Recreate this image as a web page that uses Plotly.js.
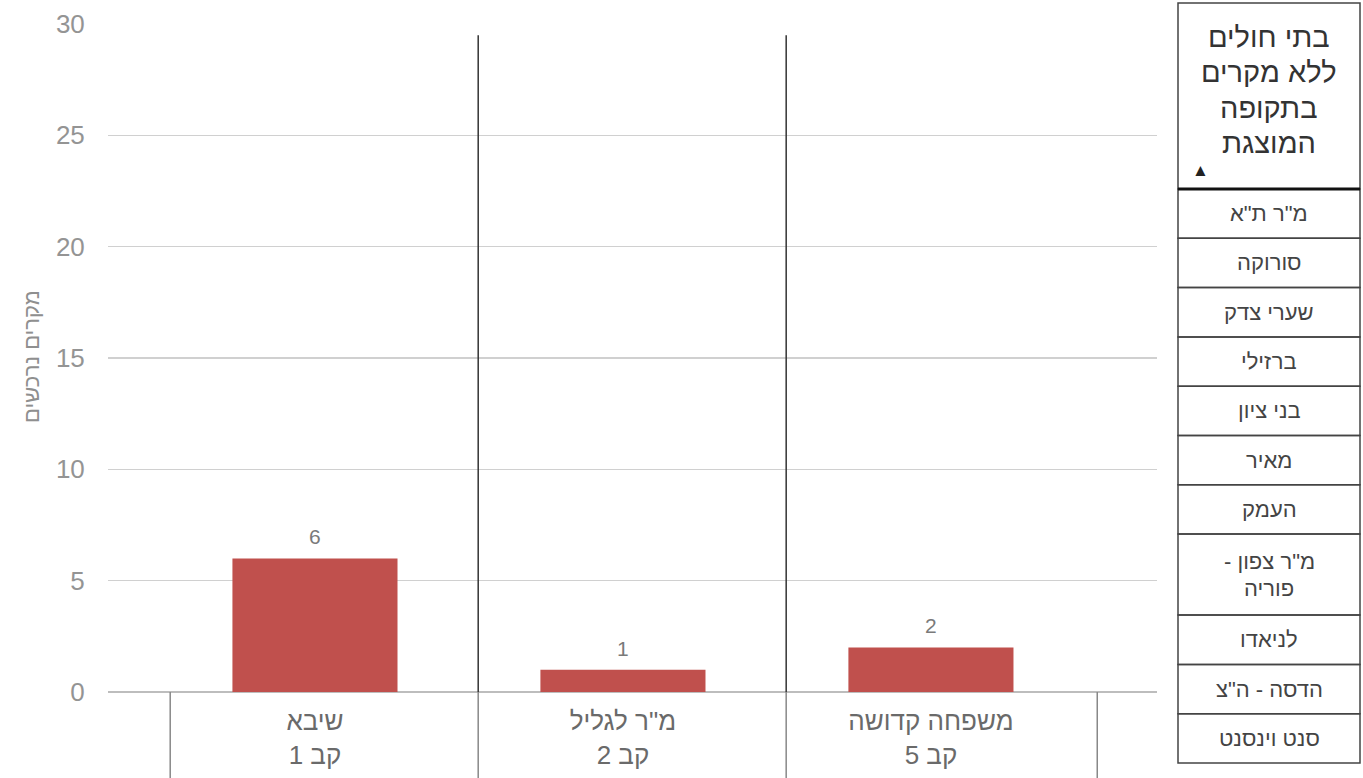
<!DOCTYPE html>
<html>
<head>
<meta charset="utf-8">
<script src="https://cdn.plot.ly/plotly-3.0.1.min.js"></script>
<style>
html,body{margin:0;padding:0;background:#fff;}
#chart{width:1363px;height:778px;}
</style>
</head>
<body>
<div id="chart"></div>
<script>
// ---------- data ----------
const hospitals = ['שיבא', 'מ"ר לגליל', 'משפחה קדושה'];
const districts = ['קב 1', 'קב 2', 'קב 5'];
const cases = [6, 1, 2];
const yTickValues = [0, 5, 10, 15, 20, 25, 30];
const yTitle = 'מקרים נרכשים';
const tableHeader = 'בתי חולים ללא מקרים בתקופה המוצגת';
const noCaseHospitals = ['מ"ר ת"א', 'סורוקה', 'שערי צדק', 'ברזילי', 'בני ציון', 'מאיר', 'העמק', 'מ"ר צפון - פוריה', 'לניאדו', 'הדסה - ה"צ', 'סנט וינסנט'];

// ---------- helpers ----------
const RLE = '\u202B', PDF = '\u202C';
const rtl = s => RLE + s + PDF;
function wrap(s, maxChars) {
  const words = s.split(' ');
  const lines = [];
  let cur = '';
  words.forEach(w => {
    const cand = cur ? cur + ' ' + w : w;
    if (cand.length > maxChars && cur) { lines.push(cur); cur = w; }
    else cur = cand;
  });
  if (cur) lines.push(cur);
  return lines;
}

// ---------- geometry (pixels) ----------
const W = 1363, H = 778;
const M = {l: 108, r: 206, t: 24, b: 86};
const PW = W - M.l - M.r, PH = H - M.t - M.b;
const px = x => (x - M.l) / PW;
const py = y => (H - M.b - y) / PH;

const FONT = 'Liberation Sans, Arial, sans-serif';
const BAR_COLOR = '#C0504D';

const idx = hospitals.map((_, i) => i);
const ticktext = idx.map(i => rtl(hospitals[i]) + '<br>' + rtl(districts[i]));

const trace = {
  type: 'bar',
  x: idx,
  y: cases,
  width: 0.536,
  marker: {color: BAR_COLOR},
  hoverinfo: 'skip'
};

const shapes = [];
const annotations = [];

// separators between categories (above axis, dark) and table lines below axis (gray)
const bounds = [-0.47, 0.53, 1.53, 2.54];
bounds.forEach((b, k) => {
  if (k > 0 && k < bounds.length - 1) {
    shapes.push({type: 'line', xref: 'x', yref: 'y', x0: b, x1: b, y0: 0, y1: 29.5,
      line: {color: '#333', width: 1.5}});
  }
  shapes.push({type: 'line', xref: 'x', yref: 'paper', x0: b, x1: b, y0: 0, y1: py(H + 2),
    line: {color: '#888', width: 1.5}});
});

// value labels above bars
idx.forEach(i => {
  annotations.push({x: i, y: cases[i], xref: 'x', yref: 'y', text: String(cases[i]),
    showarrow: false, yanchor: 'bottom', yshift: 8,
    font: {family: FONT, size: 21, color: '#7a7a7a'}});
});

// y-axis title
annotations.push({xref: 'paper', yref: 'paper', x: px(31), y: py(357), text: rtl(yTitle),
  xanchor: 'center', yanchor: 'middle',
  textangle: -90, showarrow: false, font: {family: FONT, size: 22, color: '#8f8f8f'}});

// ---------- right-hand table ----------
const TL = 1178, TR = 1360, TC = (TL + TR) / 2;
const headTop = 3, headBottom = 189;
shapes.push({type: 'rect', xref: 'paper', yref: 'paper', x0: px(TL), x1: px(TR), y0: py(headTop), y1: py(headBottom),
  line: {color: '#444', width: 1.5}, fillcolor: 'rgba(0,0,0,0)'});
const headLines = wrap(tableHeader, 10);
headLines.forEach((l, k) => {
  annotations.push({xref: 'paper', yref: 'paper', x: px(TC), y: py(37 + k * 35.3), text: rtl(l),
    showarrow: false, xanchor: 'center', yanchor: 'middle',
    font: {family: FONT, size: 29, color: '#333'}});
});
annotations.push({xref: 'paper', yref: 'paper', x: px(1200), y: py(170), text: '▲',
  showarrow: false, xanchor: 'center', yanchor: 'middle', font: {family: FONT, size: 17, color: '#222'}});

let yCur = headBottom;
const SINGLE = 49.3, EXTRA = 31.7;
noCaseHospitals.forEach(name => {
  const lines = wrap(name, 10);
  const h = SINGLE + (lines.length - 1) * EXTRA;
  shapes.push({type: 'rect', xref: 'paper', yref: 'paper', x0: px(TL), x1: px(TR), y0: py(yCur), y1: py(yCur + h),
    line: {color: '#444', width: 1.5}, fillcolor: 'rgba(0,0,0,0)'});
  const mid = yCur + h / 2;
  lines.forEach((l, k) => {
    const off = (k - (lines.length - 1) / 2) * 27;
    annotations.push({xref: 'paper', yref: 'paper', x: px(TC), y: py(mid + off), text: rtl(l),
      showarrow: false, xanchor: 'center', yanchor: 'middle',
      font: {family: FONT, size: 22, color: '#444'}});
  });
  yCur += h;
});
shapes.push({type: 'line', xref: 'paper', yref: 'paper', x0: px(TL), x1: px(TR), y0: py(headBottom), y1: py(headBottom),
  line: {color: '#111', width: 3}});

const layout = {
  width: W, height: H,
  margin: M,
  paper_bgcolor: '#fff', plot_bgcolor: '#fff',
  showlegend: false,
  font: {family: FONT},
  xaxis: {
    type: 'linear',
    range: [-0.672, 2.734],
    tickmode: 'array', tickvals: idx, ticktext: ticktext,
    showgrid: false, zeroline: false, showline: false,
    ticks: 'outside', ticklen: 6, tickcolor: 'rgba(0,0,0,0)',
    tickfont: {family: FONT, size: 26, color: '#6a6a6a'},
    fixedrange: true
  },
  yaxis: {
    range: [0, 30],
    tickmode: 'array', tickvals: yTickValues,
    showgrid: true, gridcolor: '#d0d0d0', gridwidth: 1.5,
    zeroline: true, zerolinecolor: '#bdbdbd', zerolinewidth: 1.5,
    showline: false,
    ticks: 'outside', ticklen: 17, tickcolor: 'rgba(0,0,0,0)',
    tickfont: {family: FONT, size: 26, color: '#949494'},
    fixedrange: true
  },
  shapes: shapes,
  annotations: annotations
};

Plotly.newPlot('chart', [trace], layout, {displayModeBar: false, staticPlot: true});
</script>
</body>
</html>
